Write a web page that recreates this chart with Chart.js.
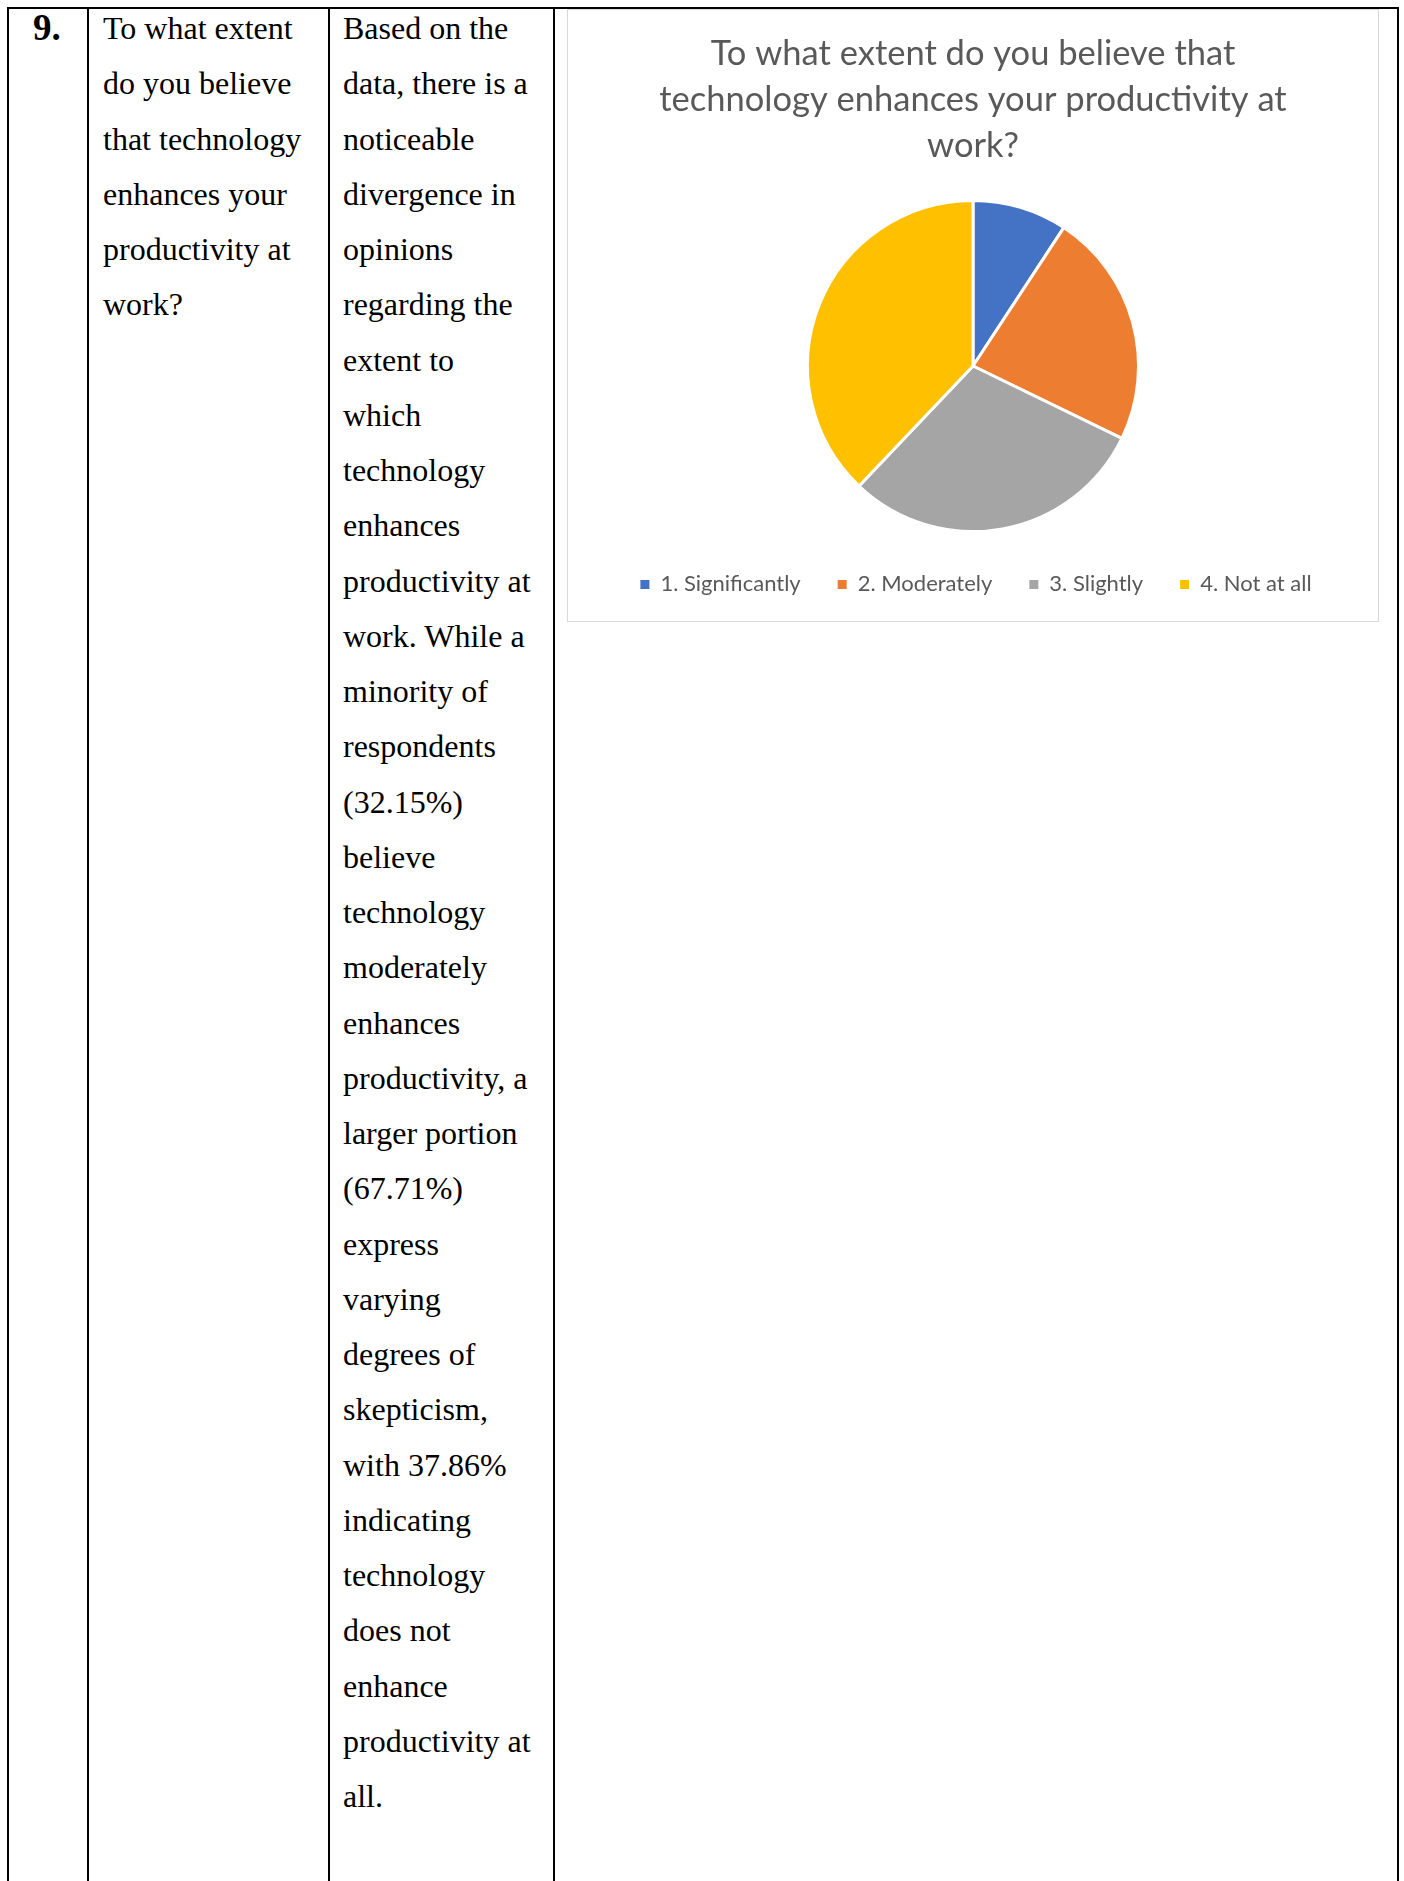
<!DOCTYPE html>
<html>
<head>
<meta charset="utf-8">
<script src="https://cdn.jsdelivr.net/npm/chart.js@4/dist/chart.umd.min.js"></script>
<style>
  html, body { margin: 0; padding: 0; background: #fff; }
  body { width: 1404px; height: 1881px; position: relative; overflow: hidden; }
  .rule { position: absolute; background: #000; }
  .cell {
    position: absolute; top: 1px;
    font-family: "Liberation Serif", "Times New Roman", serif;
    font-size: 32px; line-height: 55.25px; color: #000; white-space: nowrap;
  }
  .num { font-weight: bold; font-size: 37px; top: 0px; }
  #chartBox {
    position: absolute; left: 567px; top: 9px; width: 812px; height: 613px;
    box-sizing: border-box; border: 1px solid #d9d9d9; background: #fff;
  }
  #chartBox canvas { position: absolute; left: 0; top: 0; }
</style>
</head>
<body>
  <!-- table grid -->
  <div class="rule" style="left:7px; top:7px; width:1392px; height:2px;"></div>
  <div class="rule" style="left:7px; top:7px; width:2px; height:1874px;"></div>
  <div class="rule" style="left:87px; top:7px; width:2px; height:1874px;"></div>
  <div class="rule" style="left:328px; top:7px; width:2px; height:1874px;"></div>
  <div class="rule" style="left:553px; top:7px; width:2px; height:1874px;"></div>
  <div class="rule" style="left:1397px; top:7px; width:2px; height:1874px;"></div>

  <div class="cell num" style="left:33px;">9.</div>
  <div class="cell" id="question" style="left:103px;"></div>
  <div class="cell" id="analysis" style="left:343px;"></div>

  <div id="chartBox"><canvas id="pie" width="810" height="611"></canvas></div>

<script>
// Survey question and response breakdown (percent of respondents)
const questionLines = [
  "To what extent", "do you believe", "that technology",
  "enhances your", "productivity at", "work?"
];
const analysisLines = [
  "Based on the", "data, there is a", "noticeable", "divergence in", "opinions",
  "regarding the", "extent to", "which", "technology", "enhances",
  "productivity at", "work. While a", "minority of", "respondents", "(32.15%)",
  "believe", "technology", "moderately", "enhances", "productivity, a",
  "larger portion", "(67.71%)", "express", "varying", "degrees of",
  "skepticism,", "with 37.86%", "indicating", "technology", "does not",
  "enhance", "productivity at", "all."
];
const titleLines = [
  "To what extent do you believe that",
  "technology enhances your productivity at",
  "work?"
];
const categories = ["1. Significantly", "2. Moderately", "3. Slightly", "4. Not at all"];
const shares = [9.23, 22.92, 29.85, 37.86];
const sliceColors = ["#4472C4", "#ED7D31", "#A5A5A5", "#FFC000"];

function fillLines(id, lines) {
  const el = document.getElementById(id);
  lines.forEach((t, i) => {
    if (i) el.appendChild(document.createElement("br"));
    el.appendChild(document.createTextNode(t));
  });
}
fillLines("question", questionLines);
fillLines("analysis", analysisLines);

const textGray = "#595959";

// nudge the legend row slightly right of the plot's centre line
const legendOffset = {
  id: "legendOffset",
  afterLayout(chart) {
    if (chart.legend) { chart.legend.left += 3; chart.legend.right += 3; }
  }
};

new Chart(document.getElementById("pie"), {
  type: "pie",
  data: {
    labels: categories,
    datasets: [{
      data: shares,
      backgroundColor: sliceColors,
      borderColor: "#ffffff",
      borderWidth: 3
    }]
  },
  options: {
    responsive: false,
    animation: false,
    devicePixelRatio: 1,
    radius: "98%",
    layout: { padding: { top: 0, bottom: 15.6, left: 0, right: 0 } },
    plugins: {
      title: {
        display: true,
        text: titleLines,
        color: textGray,
        font: { family: "Lato", size: 34.5, weight: "normal", lineHeight: 46 / 34.5 },
        padding: { top: 21, bottom: 26.6 }
      },
      legend: {
        display: true,
        position: "bottom",
        labels: {
          boxWidth: 9,
          boxHeight: 9,
          padding: 37,
          color: textGray,
          font: { family: "Lato", size: 22 },
          // solid square markers without the slice outline
          generateLabels(chart) {
            const items = Chart.overrides.pie.plugins.legend.labels.generateLabels(chart);
            items.forEach(it => { it.lineWidth = 0; it.strokeStyle = it.fillStyle; });
            return items;
          }
        }
      },
      tooltip: { enabled: false }
    }
  },
  plugins: [legendOffset]
});
</script>
</body>
</html>
